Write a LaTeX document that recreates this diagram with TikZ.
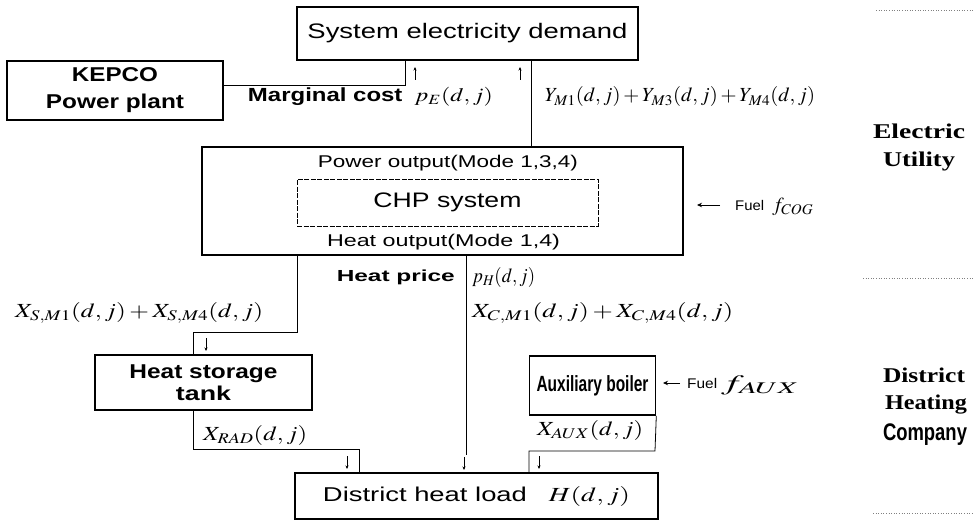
\documentclass[tikz,border=0pt]{standalone}
\usepackage{mathptmx}
\usepackage{fontspec}
\setmainfont{Liberation Sans}
\newfontfamily\serf{Liberation Serif}
\usepackage{graphicx}
\usetikzlibrary{arrows.meta}
\newcommand\fw[3]{\resizebox{#1pt}{\height}{\fontsize{#2}{#2}\selectfont #3}}
\begin{document}
\begin{tikzpicture}[x=1pt,y=-1pt,
  box/.style={draw,line width=1.6pt,inner sep=0pt,align=center},
  con/.style={line width=0.8pt},
  sar/.style={line width=0.7pt,-{Stealth[length=3.5pt,width=3pt]}},
  far/.style={line width=0.8pt,-{Stealth[length=5pt,width=4.5pt]}},
  lbl/.style={inner sep=0pt},
  dots/.style={dotted,line width=0.6pt,gray}]
\useasboundingbox (0,0) rectangle (975,527);
\fill[white] (0,0) rectangle (975,527);

% boxes
\node[box,minimum width=341pt,minimum height=53pt] (sed) at (467.5,33.5) {\fw{320}{21}{System electricity demand}};
\node[box,minimum width=216pt,minimum height=59pt,font=\fontsize{20}{27}\selectfont] (kepco) at (115,90.5) {\fw{86}{20}{\bfseries KEPCO}\\\fw{138}{20}{\bfseries Power plant}};
\node[box,minimum width=481pt,minimum height=108pt] (chp) at (442.5,201) {};
\node[draw,line width=0.7pt,dash pattern=on 5pt off 1.5pt,minimum width=301pt,minimum height=47pt,inner sep=0pt] (chpin) at (447.5,202.5) {\fw{148}{21}{CHP system}};
\node[lbl] (pout) at (448,163) {\fw{260}{17}{Power output(Mode 1,3,4)}};
\node[lbl] (hout) at (443.5,242) {\fw{233}{17}{Heat output(Mode 1,4)}};
\node[box,minimum width=217pt,minimum height=55pt,font=\fontsize{20}{22}\selectfont] (hst) at (203.5,382.5) {\fw{148}{20}{\bfseries Heat storage}\\\fw{55}{20}{\bfseries tank}};
\node[box,minimum width=126pt,minimum height=59pt] (aux) at (592.5,385.5) {\fw{112}{22}{\bfseries Auxiliary boiler}};
\node[box,minimum width=363pt,minimum height=46pt] (dhl) at (476.5,496) {\fw{307}{20}{District heat load\hspace{0.8em}$H(d,j)$}};

% labels
\node[lbl] (mc) at (370.5,97) {\fw{245}{19}{\bfseries Marginal cost\hspace{0.5em}\mdseries$p_E(d,j)$}};
\node[lbl] (ylab) at (680,97) {\fw{270}{20}{$Y_{M1}(d,j)+Y_{M3}(d,j)+Y_{M4}(d,j)$}};
\node[lbl,anchor=west] (fuelc) at (735,205) {\fw{29}{14}{Fuel}};
\node[lbl,anchor=west] (fcog) at (772,207) {\fw{41}{20}{$f_{COG}$}};
\node[lbl,anchor=east] (hp) at (455,277) {\fw{118}{16}{\bfseries Heat price}};
\node[lbl,anchor=west] (ph) at (472,277) {\fw{63}{20}{$p_H(d,j)$}};
\node[lbl,anchor=west] (xs) at (15,313) {\fw{248}{20}{$X_{S,M1}(d,j)+X_{S,M4}(d,j)$}};
\node[lbl,anchor=west] (xc) at (472,313) {\fw{261}{20}{$X_{C,M1}(d,j)+X_{C,M4}(d,j)$}};
\node[lbl,anchor=west] (xrad) at (203,435) {\fw{104}{20}{$X_{RAD}(d,j)$}};
\node[lbl,anchor=west] (xaux) at (537,430) {\fw{106}{20}{$X_{AUX}(d,j)$}};
\node[lbl,anchor=west] (fuela) at (687,383) {\fw{30}{14}{Fuel}};
\node[lbl,anchor=west] (faux) at (721,385) {\fw{78}{22}{$f_{AUX}$}};

\node[lbl] (el) at (919,131) {\fw{92}{21}{\serf\bfseries Electric}};
\node[lbl] (ut) at (919,161) {\fw{72}{21}{\serf\bfseries Utility}};
\node[lbl] (di) at (924,375) {\fw{82}{21}{\serf\bfseries District}};
\node[lbl] (he) at (926,405) {\fw{82}{21}{\serf\bfseries Heating}};
\node[lbl] (co) at (925,435) {\fw{84}{24}{\bfseries Company}};

% connectors
\coordinate (k1) at (405,85);
\draw[con] (kepco.east |- k1) -- (k1) -- (k1 |- sed.south);
\coordinate (c1) at (531,0);
\draw[con] (c1 |- chp.north) -- (c1 |- sed.south);
\coordinate (a1) at (415,80);
\coordinate (a2) at (520,80);
\draw[sar] (a1) -- ++(0,-13);
\draw[sar] (a2) -- ++(0,-13);

\coordinate (h1) at (297,332);
\coordinate (h2) at (193,332);
\draw[con] (h1 |- chp.south) -- (h1) -- (h2) -- (h2 |- hst.north);
\coordinate (a3) at (206,338);
\draw[sar] (a3) -- ++(0,13);

\coordinate (h3) at (193,449);
\coordinate (h4) at (359,449);
\draw[con] (h3 |- hst.south) -- (h3) -- (h4) -- (h4 |- dhl.north);
\coordinate (a4) at (347,456);
\draw[sar] (a4) -- ++(0,13);

\coordinate (m1) at (466,455);
\draw[con] (m1 |- chp.south) -- (m1);
\coordinate (a5) at (464,457);
\draw[sar] (a5) -- ++(0,13);

\coordinate (x1) at (655,451);
\coordinate (x2) at (529,451);
\draw[con] (aux.south east) -- (x1) -- (x2) -- (x2 |- dhl.north);
\coordinate (a6) at (539,456);
\draw[sar] (a6) -- ++(0,13);

\draw[far] ([xshift=-15pt]fuelc.west) -- +(-23pt,0);
\draw[far] ([xshift=-7pt]fuela.west) -- +(-17pt,0);

% dotted separators
\draw[dots] (876,10) -- (973,10);
\draw[dots] (863,278) -- (973,278);
\draw[dots] (873,513) -- (973,513);
\end{tikzpicture}
\end{document}
